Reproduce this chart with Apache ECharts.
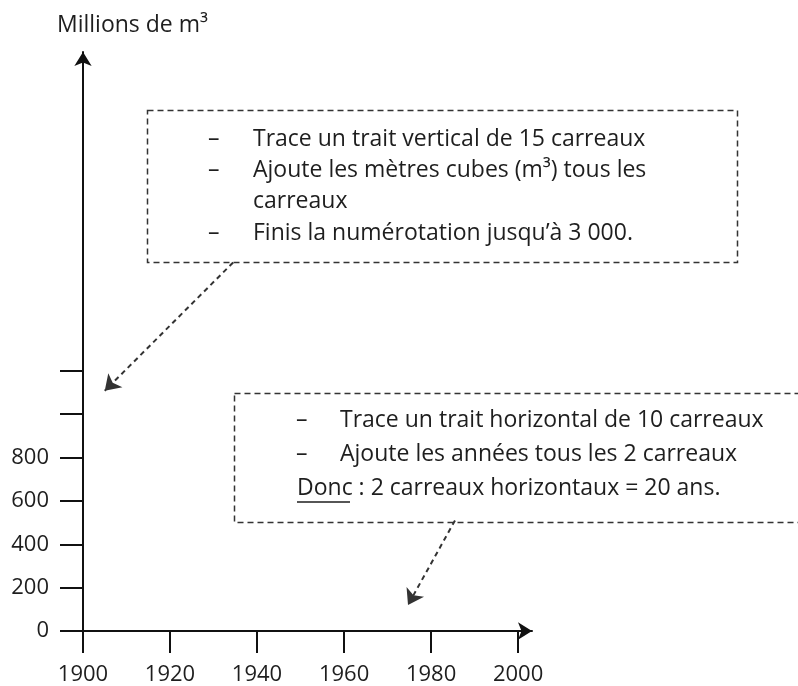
<!DOCTYPE html>
<html>
<head>
<meta charset="utf-8">
<script src="https://cdn.jsdelivr.net/npm/echarts@6/dist/echarts.min.js"></script>
<style>
html, body { margin: 0; padding: 0; background: #fff; }
#chart { width: 798px; height: 686px; }
</style>
</head>
<body>
<div id="chart"></div>
<script>
// axes
var xTicks = [1900, 1920, 1940, 1960, 1980, 2000];
var yTicks = [0, 200, 400, 600, 800, 1000, 1200];
var yLabels = [0, 200, 400, 600, 800];
var yName = 'Millions de m³';

// consignes
var box1Lines = [
  ['–', 'Trace un trait vertical de 15 carreaux'],
  ['–', 'Ajoute les mètres cubes (m³) tous les'],
  ['', 'carreaux'],
  ['–', 'Finis la numérotation jusqu’à 3 000.']
];
var box2Lines = [
  ['–', 'Trace un trait horizontal de 10 carreaux'],
  ['–', 'Ajoute les années tous les 2 carreaux']
];
var box2Last = 'Donc : 2 carreaux horizontaux = 20 ans.';

// flèches (en valeurs d'axes)
var arrow1 = [[1934.5, 1700], [1905, 1108]];
var arrow2 = [[1985.5, 510], [1974.7, 120]];

var font = '"Open Sans", sans-serif';
var ink = '#1e1e1e';
var txt = '23px ' + font;

var chart = echarts.init(document.getElementById('chart'));

var graphics = [];
graphics.push({
  type: 'text', x: 57, y: 25,
  style: { text: yName, font: txt, fill: ink, verticalAlign: 'middle' }
});

// boite 1
graphics.push({
  type: 'rect', shape: { x: 147.5, y: 110.5, width: 590, height: 152 },
  style: { fill: 'none', stroke: '#333', lineWidth: 1.5, lineDash: [6, 4] }
});
var y1 = [139, 170, 201, 233];
box1Lines.forEach(function (l, i) {
  if (l[0]) graphics.push({ type: 'text', x: 208, y: y1[i], style: { text: l[0], font: txt, fill: ink, verticalAlign: 'middle' } });
  graphics.push({ type: 'text', x: 253, y: y1[i], style: { text: l[1], font: txt, fill: ink, verticalAlign: 'middle' } });
});

// boite 2
graphics.push({
  type: 'rect', shape: { x: 234.5, y: 393.5, width: 620, height: 129 },
  style: { fill: 'none', stroke: '#333', lineWidth: 1.5, lineDash: [6, 4] }
});
var y2 = [420, 454, 488];
box2Lines.forEach(function (l, i) {
  graphics.push({ type: 'text', x: 296, y: y2[i], style: { text: l[0], font: txt, fill: ink, verticalAlign: 'middle' } });
  graphics.push({ type: 'text', x: 340, y: y2[i], style: { text: l[1], font: txt, fill: ink, verticalAlign: 'middle' } });
});
graphics.push({ type: 'text', x: 297, y: y2[2], style: { text: box2Last, font: txt, fill: ink, verticalAlign: 'middle' } });
graphics.push({ type: 'line', shape: { x1: 297, y1: 502, x2: 350, y2: 502 }, style: { stroke: ink, lineWidth: 1.5 } });

var axisLineStyle = { color: '#111', width: 2 };

chart.setOption({
  animation: false,
  grid: { left: 83, right: 266, top: 52, bottom: 53 },
  xAxis: {
    type: 'value', min: 1900, max: 2003.2,
    splitLine: { show: false },
    axisLine: { show: true, onZero: false, symbol: ['none', 'arrow'], symbolSize: [13, 14], lineStyle: axisLineStyle },
    axisTick: { show: true, length: 22, customValues: xTicks, lineStyle: axisLineStyle },
    axisLabel: {
      customValues: xTicks, margin: 33, fontSize: 22, fontFamily: font, color: ink,
      formatter: function (v) { return String(v); }
    }
  },
  yAxis: {
    type: 'value', min: 0, max: 2671,
    splitLine: { show: false },
    axisLine: { show: true, onZero: false, symbol: ['none', 'arrow'], symbolSize: [13, 14], lineStyle: axisLineStyle },
    axisTick: { show: true, length: 23, customValues: yTicks, lineStyle: axisLineStyle },
    axisLabel: {
      customValues: yLabels, margin: 34, fontSize: 22, fontFamily: font, color: ink,
      formatter: function (v) { return String(v); }
    }
  },
  series: [{
    type: 'lines',
    coordinateSystem: 'cartesian2d',
    symbol: ['none', 'arrow'],
    symbolSize: 15,
    lineStyle: { color: '#333', width: 2, type: [5, 4], opacity: 1 },
    data: [{ coords: arrow1 }, { coords: arrow2 }]
  }],
  graphic: graphics
});
</script>
</body>
</html>
